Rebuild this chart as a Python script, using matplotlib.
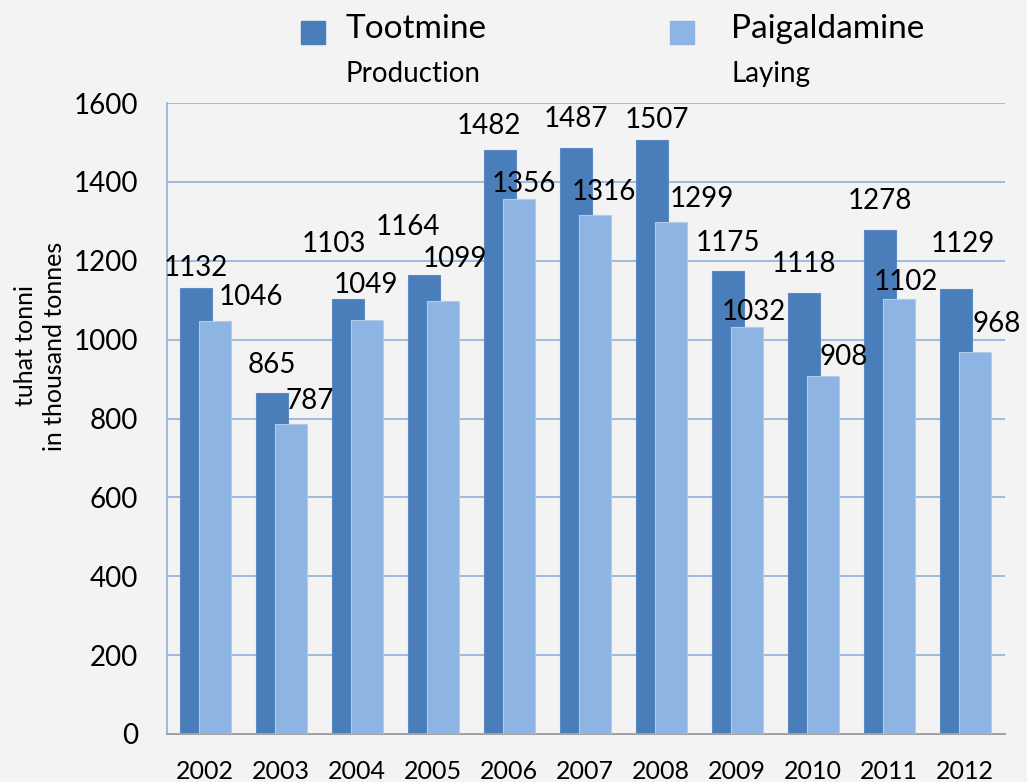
import matplotlib.pyplot as plt
from matplotlib.patches import Rectangle
import numpy as np

plt.rcParams['font.family'] = ['Lato', 'DejaVu Sans']

years = ["2002", "2003", "2004", "2005", "2006", "2007", "2008", "2009", "2010", "2011", "2012"]
production = [1132, 865, 1103, 1164, 1482, 1487, 1507, 1175, 1118, 1278, 1129]
laying = [1046, 787, 1049, 1099, 1356, 1316, 1299, 1032, 908, 1102, 968]

# label nudges (pixels), where Excel moved labels around
prod_dx = [0, 0, -14, -16, -11, 0, 5, 0, 0, 0, 7]
prod_dy = [22, 30, 57, 50, 26, 31, 22, 30, 31, 31, 47]
lay_dx = [36, 19, -1, 12, 5, 9, 31, 7, 21, 7, 22]
lay_dy = [26, 25, 37, 44, 17, 25, 25, 17, 21, 19, 30]

dark = "#4a7ebb"
light = "#8eb4e3"
bg = "#f3f3f4"

fig = plt.figure(figsize=(10.27, 7.82), dpi=100, facecolor=bg)
ax = fig.add_axes([167 / 1027, 1 - 734 / 782, (1005 - 167) / 1027, (734 - 103) / 782])
ax.set_facecolor(bg)

x = np.arange(len(years))
w = 0.42
ax.bar(x - 0.12, production, w, color=dark, edgecolor="#5b8ac4", linewidth=0.8, zorder=2)
ax.bar(x + 0.13, laying, w, color=light, edgecolor="#b4cbe8", linewidth=0.8, zorder=3)

px = 0.72  # points per pixel
for i in range(len(years)):
    ax.annotate(str(production[i]), (x[i] - 0.12, production[i]),
                xytext=(prod_dx[i] * px, (prod_dy[i] - 10) * px), textcoords="offset points",
                ha="center", va="baseline", fontsize=20, color="black", zorder=5)
    ax.annotate(str(laying[i]), (x[i] + 0.13, laying[i]),
                xytext=(lay_dx[i] * px, (lay_dy[i] - 10) * px), textcoords="offset points",
                ha="center", va="baseline", fontsize=20, color="black", zorder=5)

ax.set_xlim(-0.5, len(years) - 0.5 + 0.03)
ax.set_ylim(0, 1600)
ax.set_yticks(range(0, 1601, 200))
ax.set_xticks(x)
ax.set_xticklabels(years)
ax.yaxis.grid(True, color="#9dbbe0", linewidth=1.4, zorder=0)
ax.set_axisbelow(True)
for s in ["top", "right"]:
    ax.spines[s].set_visible(False)
ax.spines["left"].set_color("#9dbbe0")
ax.spines["left"].set_linewidth(1.4)
ax.spines["bottom"].set_color("#a0a0a0")
ax.spines["bottom"].set_linewidth(1.4)
ax.tick_params(axis="y", length=0, pad=21, labelsize=20)
ax.tick_params(axis="x", length=0, pad=19, labelsize=18)

fig.text(40 / 1027, 1 - 346 / 782, "tuhat tonni\nin thousand tonnes", rotation=90,
         ha="center", va="center", fontsize=18, linespacing=1.3)

# legend drawn by hand: big name, small english name below
fig.patches.append(Rectangle((301 / 1027, 1 - 44 / 782), 24 / 1027, 23 / 782,
                             transform=fig.transFigure, color=dark))
fig.patches.append(Rectangle((670 / 1027, 1 - 44 / 782), 24 / 1027, 23 / 782,
                             transform=fig.transFigure, color=light))
fig.text(346 / 1027, 1 - 38 / 782, "Tootmine", fontsize=24, va="baseline")
fig.text(346 / 1027, 1 - 82 / 782, "Production", fontsize=20, va="baseline")
fig.text(731 / 1027, 1 - 38 / 782, "Paigaldamine", fontsize=24, va="baseline")
fig.text(731 / 1027, 1 - 82 / 782, "Laying", fontsize=20, va="baseline")

fig.savefig("out.png", dpi=100, facecolor=bg)
